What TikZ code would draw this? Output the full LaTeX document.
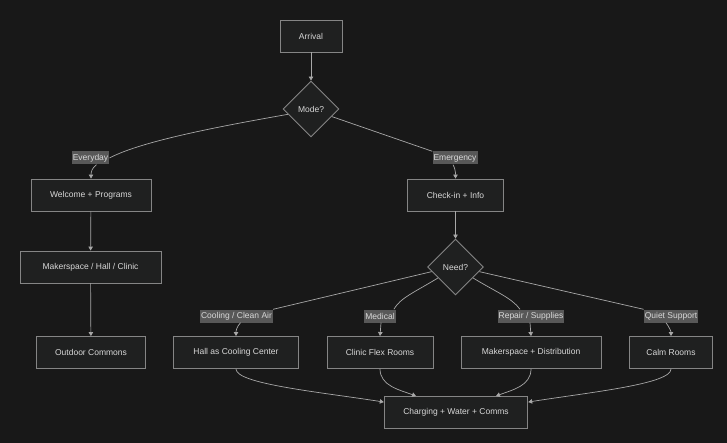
\documentclass[tikz,border=0pt]{standalone}
\usepackage{fontspec}
\setmainfont{Liberation Sans}
\usetikzlibrary{shapes.geometric,arrows.meta,calc}
\definecolor{bgc}{HTML}{181818}
\definecolor{nodefill}{HTML}{1F2020}
\definecolor{nodeline}{HTML}{858585}
\definecolor{edgec}{HTML}{A8A8A8}
\definecolor{txtc}{HTML}{D8D8D8}
\definecolor{lblbg}{HTML}{585858}
\tikzset{
  box/.style={draw=nodeline, fill=nodefill, line width=0.9pt, minimum height=32pt,
    inner xsep=8pt, inner ysep=0pt, text=txtc, font=\fontsize{8.5}{10}\selectfont},
  dia/.style={diamond, draw=nodeline, fill=nodefill, line width=0.9pt, minimum width=56pt,
    minimum height=56pt, inner sep=0pt, text=txtc, font=\fontsize{8.5}{10}\selectfont},
  lbl/.style={fill=lblbg, text=txtc, inner xsep=1pt, inner ysep=0pt, minimum height=13pt,
    font=\fontsize{8.5}{10}\selectfont},
  edge/.style={draw=edgec, line width=0.7pt},
  arr/.style={edge, -{Triangle[length=4pt,width=4.5pt]}},
}
\begin{document}
\begin{tikzpicture}[x=1pt,y=-1pt]
\fill[bgc] (0,0) rectangle (727,443);
\useasboundingbox (0,0) rectangle (727,443);

% nodes
\node[box, minimum width=62pt] (arrival) at (311,36) {Arrival};
\node[dia] (mode) at (311,109) {Mode?};
\node[box, minimum width=120pt] (welcome) at (91,195) {Welcome + Programs};
\node[box, minimum width=96pt] (checkin) at (455.5,195) {Check-in + Info};
\node[box, minimum width=141pt] (maker) at (90.5,267) {Makerspace / Hall / Clinic};
\node[dia] (need) at (455.5,267) {Need?};
\node[box, minimum width=109.5pt] (outdoor) at (91,352.5) {Outdoor Commons};
\node[box, minimum width=124.5pt] (hall) at (236,352.5) {Hall as Cooling Center};
\node[box, minimum width=106pt] (clinic) at (380,352.5) {Clinic Flex Rooms};
\node[box, minimum width=140pt] (mdist) at (531,352.5) {Makerspace + Distribution};
\node[box, minimum width=83.5pt] (calm) at (671,352.5) {Calm Rooms};
\node[box, minimum width=143.5pt] (charge) at (456,412.5) {Charging + Water + Comms};

% edge labels
\node[lbl] (ev) at (90.5,158) {Everyday};
\node[lbl] (em) at (455,158) {Emergency};
\node[lbl] (cool) at (236.5,316) {Cooling / Clean Air};
\node[lbl] (med) at (380,316) {Medical};
\node[lbl] (rep) at (531,316) {Repair / Supplies};
\node[lbl] (quiet) at (671,316) {Quiet Support};

% edges
\draw[arr] (arrival) -- (mode);
\draw[edge] (mode.193) .. controls (210,128) and (140,142) .. (ev.east);
\draw[arr] ($(ev.south)+(6,0)$) .. controls (92,168) and (91,172) .. (welcome.north);
\draw[edge] (mode.-20) -- (em.north west);
\draw[arr] ($(em.south)+(-2,0)$) .. controls (455,168) and (455.5,172) .. (checkin.north);

\draw[arr] (welcome) -- (maker);
\draw[arr] (maker) -- (outdoor);
\draw[arr] (checkin) -- (need);

\draw[edge] (need.191) -- (cool.north east);
\draw[arr] ($(cool.south)+(4,0)$) .. controls (236.5,327) and (236,331) .. (hall.north);
\draw[edge] (need.212) .. controls (415,292) and (400,298) .. ($(med.north east)+(-2,0)$);
\draw[arr] ($(med.south)+(1,0)$) -- (clinic.north);
\draw[edge] (need.-32) .. controls (496,292) and (512,298) .. ($(rep.north)+(-11,0)$);
\draw[arr] ($(rep.south)+(-1,0)$) -- (mdist.north);
\draw[edge] (need.-11) -- (quiet.north west);
\draw[arr] ($(quiet.south)+(-5,0)$) .. controls (669,327) and (671,331) .. (calm.north);

\draw[arr] (hall.south) .. controls (236,384) and (320,392) .. ($(charge.north west)+(0,6)$);
\draw[arr] (clinic.south) .. controls (380,386) and (400,390) .. ($(charge.north)+(-40,0)$);
\draw[arr] (mdist.south) .. controls (531,386) and (512,390) .. ($(charge.north)+(40,0)$);
\draw[arr] (calm.south) .. controls (671,384) and (592,392) .. ($(charge.north east)+(0,6)$);
\end{tikzpicture}
\end{document}
